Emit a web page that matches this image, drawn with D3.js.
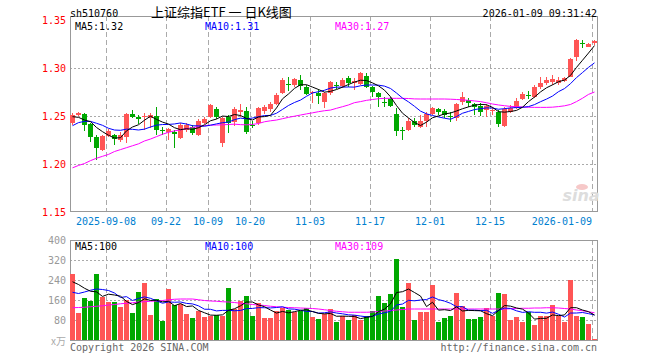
<!DOCTYPE html>
<html><head><meta charset="utf-8">
<script src="https://cdn.jsdelivr.net/npm/d3@7/dist/d3.min.js"></script>
<style>body{margin:0;background:#fff}svg{display:block}</style>
</head><body><svg id="c" width="660" height="360"></svg>
<script>
// ---------- data ----------
const dates = ["2025-08-29",
"2025-09-01","2025-09-02","2025-09-03","2025-09-04","2025-09-05","2025-09-08","2025-09-09","2025-09-10","2025-09-11","2025-09-12",
"2025-09-15","2025-09-16","2025-09-17","2025-09-18","2025-09-19","2025-09-22","2025-09-23","2025-09-24","2025-09-25","2025-09-26",
"2025-09-29","2025-09-30","2025-10-09","2025-10-10","2025-10-13","2025-10-14","2025-10-15","2025-10-16","2025-10-17","2025-10-20",
"2025-10-21","2025-10-22","2025-10-23","2025-10-24","2025-10-27","2025-10-28","2025-10-29","2025-10-30","2025-10-31","2025-11-03",
"2025-11-04","2025-11-05","2025-11-06","2025-11-07","2025-11-10","2025-11-11","2025-11-12","2025-11-13","2025-11-14","2025-11-17",
"2025-11-18","2025-11-19","2025-11-20","2025-11-21","2025-11-24","2025-11-25","2025-11-26","2025-11-27","2025-11-28","2025-12-01",
"2025-12-02","2025-12-03","2025-12-04","2025-12-05","2025-12-08","2025-12-09","2025-12-10","2025-12-11","2025-12-12","2025-12-15",
"2025-12-16","2025-12-17","2025-12-18","2025-12-19","2025-12-22","2025-12-23","2025-12-24","2025-12-25","2025-12-26","2025-12-29",
"2025-12-30","2025-12-31","2026-01-05","2026-01-06","2026-01-07","2026-01-08","2026-01-09"];

const open = [1.2424,1.2510,1.2521,1.2420,1.2285,1.2146,1.2292,1.2299,1.2250,1.2278,
1.2521,1.2493,1.2493,1.2476,1.2500,1.2357,1.2337,1.2337,1.2267,1.2354,
1.2389,1.2302,1.2431,1.2486,1.2570,1.2215,1.2486,1.2440,1.2545,1.2552,
1.2410,1.2424,1.2555,1.2573,1.2625,1.2743,1.2837,1.2823,1.2875,1.2806,
1.2736,1.2743,1.2649,1.2736,1.2826,1.2812,1.2892,1.2840,1.2833,1.2917,
1.2806,1.2743,1.2646,1.2674,1.2521,1.2357,1.2354,1.2451,1.2389,1.2451,
1.2521,1.2569,1.2556,1.2502,1.2476,1.2649,1.2667,1.2625,1.2604,1.2562,
1.2560,1.2545,1.2396,1.2545,1.2580,1.2674,1.2714,1.2701,1.2806,1.2847,
1.2858,1.2840,1.2868,1.2910,1.3111,1.3260,1.3222,1.3264];
const high = [1.2535,1.2545,1.2528,1.2430,1.2302,1.2302,1.2361,1.2312,1.2337,1.2535,
1.2562,1.2510,1.2528,1.2528,1.2597,1.2389,1.2372,1.2354,1.2424,1.2424,
1.2406,1.2465,1.2486,1.2625,1.2597,1.2493,1.2510,1.2590,1.2625,1.2597,
1.2444,1.2597,1.2614,1.2649,1.2736,1.2892,1.2903,1.2892,1.2927,1.2823,
1.2764,1.2778,1.2750,1.2868,1.2858,1.2892,1.2917,1.2892,1.2962,1.2951,
1.2812,1.2750,1.2694,1.2694,1.2580,1.2389,1.2476,1.2476,1.2510,1.2545,
1.2597,1.2580,1.2569,1.2545,1.2632,1.2753,1.2684,1.2639,1.2632,1.2625,
1.2590,1.2562,1.2590,1.2615,1.2684,1.2753,1.2764,1.2823,1.2910,1.2910,
1.2927,1.2910,1.2910,1.3101,1.3299,1.3292,1.3257,1.3292];
const low = [1.2406,1.2500,1.2340,1.2233,1.2042,1.2139,1.2285,1.2201,1.2233,1.2222,
1.2476,1.2417,1.2354,1.2372,1.2302,1.2302,1.2250,1.2163,1.2257,1.2337,
1.2302,1.2292,1.2417,1.2476,1.2465,1.2181,1.2326,1.2400,1.2493,1.2312,
1.2372,1.2406,1.2521,1.2545,1.2614,1.2729,1.2764,1.2806,1.2771,1.2719,
1.2632,1.2625,1.2580,1.2722,1.2778,1.2788,1.2806,1.2771,1.2823,1.2788,
1.2701,1.2597,1.2597,1.2597,1.2292,1.2250,1.2340,1.2389,1.2372,1.2389,
1.2510,1.2510,1.2476,1.2441,1.2451,1.2615,1.2597,1.2510,1.2500,1.2486,
1.2510,1.2382,1.2389,1.2528,1.2569,1.2667,1.2674,1.2684,1.2778,1.2823,
1.2823,1.2823,1.2858,1.2903,1.3076,1.3205,1.3215,1.3240];
const close = [1.2510,1.2535,1.2410,1.2285,1.2163,1.2292,1.2347,1.2264,1.2302,1.2521,
1.2493,1.2465,1.2500,1.2510,1.2354,1.2354,1.2361,1.2312,1.2406,1.2406,
1.2319,1.2448,1.2465,1.2615,1.2493,1.2476,1.2424,1.2570,1.2562,1.2337,
1.2400,1.2580,1.2590,1.2628,1.2722,1.2875,1.2833,1.2882,1.2812,1.2729,
1.2750,1.2708,1.2743,1.2854,1.2823,1.2875,1.2847,1.2868,1.2951,1.2806,
1.2753,1.2694,1.2642,1.2608,1.2347,1.2354,1.2448,1.2406,1.2451,1.2521,
1.2583,1.2542,1.2510,1.2500,1.2625,1.2701,1.2639,1.2597,1.2545,1.2604,
1.2565,1.2417,1.2569,1.2580,1.2660,1.2729,1.2712,1.2806,1.2847,1.2875,
1.2882,1.2875,1.2892,1.3090,1.3292,1.3255,1.3250,1.3281];
// volume, unit: 万
const volume = [264,109,169,157,264,173,153,153,133,160,
109,193,229,100,164,77,205,140,144,103,
89,116,93,97,100,97,207,124,156,176,
97,148,89,89,116,129,120,113,116,127,
93,84,103,124,71,96,80,100,80,96,
116,176,149,184,324,133,229,80,113,113,
220,71,89,96,187,137,84,84,93,129,
97,187,184,80,93,73,111,60,95,95,
140,98,73,240,95,93,66,4];

// moving-average values before enough history exists
const ma5Head = [1.2493,1.2486,1.2458,1.2441];
const ma10Head = [1.2399,1.2431,1.2444,1.2444,1.2424,1.2403,1.2372,1.2354,1.2351];
const ma30 = [1.1960,1.1985,1.2005,1.2035,1.2060,1.2080,1.2100,1.2130,1.2150,1.2170,
1.2190,1.2210,1.2240,1.2260,1.2285,1.2310,1.2330,1.2345,1.2355,1.2368,
1.2380,1.2390,1.2400,1.2405,1.2406,1.2408,1.2412,1.2415,1.2410,1.2408,
1.2412,1.2422,1.2440,1.2450,1.2458,1.2472,1.2486,1.2498,1.2510,1.2522,
1.2533,1.2545,1.2555,1.2562,1.2580,1.2597,1.2615,1.2639,1.2650,1.2663,
1.2672,1.2680,1.2684,1.2684,1.2684,1.2684,1.2682,1.2678,1.2677,1.2677,
1.2677,1.2677,1.2677,1.2675,1.2672,1.2668,1.2663,1.2657,1.2650,1.2638,
1.2625,1.2615,1.2607,1.2600,1.2597,1.2594,1.2591,1.2590,1.2590,1.2590,
1.2592,1.2598,1.2606,1.2620,1.2650,1.2685,1.2725,1.2750];
const vma5Head = [233,222,207,195];
const vma10Head = [191,186,192,199,204,202,198,188,170];
const vma30 = [129,130,131,133,135,137,140,142,145,147,
149,152,153,155,156,158,161,163,164,164,
164,161,158,156,155,153,152,150,147,145,
142,140,138,135,133,131,130,129,128,127,
126,124,121,118,115,113,111,111,111,111,
112,114,116,118,120,122,124,124,124,124,
124,124,124,124,124,124,124,124,124,124,
124,124,124,125,126,127,127,128,128,129,
129,128,126,124,120,117,113,109];

const priceTicks = [1.35,1.30,1.25,1.20,1.15];
const volTicks = [400,320,240,160,80];
const dateTicks = ["2025-09-08","2025-09-22","2025-10-09","2025-10-20","2025-11-03","2025-11-17","2025-12-01","2025-12-15","2026-01-09"];
const dateTickLabels = ["2025-09-08","09-22","10-09","10-20","11-03","11-17","12-01","12-15","2026-01-09"];

// ---------- helpers ----------
function rolling(arr, n, head){
  return arr.map((_, i) => i < n - 1 ? head[i] : d3.mean(arr.slice(i - n + 1, i + 1)));
}
const ma5 = rolling(close, 5, ma5Head);
const ma10 = rolling(close, 10, ma10Head);
const vma5 = rolling(volume, 5, vma5Head);
const vma10 = rolling(volume, 10, vma10Head);

const UP = "#ff5555", DOWN = "#00a800", GRID = "#aaaaaa", FRAME = "#999999";
const MONO = "'DejaVu Sans Mono', 'Liberation Mono', monospace";
const L = 70, R = 597;
const svg = d3.select("#c");

const x = d3.scaleBand().domain(dates).range([L, L + 6 * dates.length]).padding(0);
const bw = 5;
const cx = d => x(d) + 2;

const y = d3.scaleLinear().domain([1.15, 1.35]).range([212, 20]);
const vy = d3.scaleLinear().domain([0, 400]).range([340, 240]);

const isUp = i => close[i] >= open[i];

// ---------- price panel ----------
const pTop = 16, pBot = 211;
const gp = svg.append("g");
gp.selectAll("line.hg").data(priceTicks.filter(t => t > 1.16 && t < 1.34)).join("line")
  .attr("x1", L).attr("x2", R).attr("y1", d => Math.round(y(d)) + 0.5).attr("y2", d => Math.round(y(d)) + 0.5)
  .attr("stroke", GRID).attr("stroke-dasharray", "2,2");
gp.selectAll("line.vg").data(dateTicks).join("line")
  .attr("x1", d => x(d) + 0.5).attr("x2", d => x(d) + 0.5).attr("y1", pTop).attr("y2", pBot)
  .attr("stroke", GRID).attr("stroke-dasharray", "5,3");
gp.append("rect").attr("x", L + 0.5).attr("y", pTop + 0.5).attr("width", R - L).attr("height", pBot - pTop)
  .attr("fill", "none").attr("stroke", FRAME);

// watermark
svg.append("text").attr("x", 581).attr("y", 201).attr("text-anchor", "middle")
  .attr("font-family", "'DejaVu Sans', sans-serif").attr("font-size", 16).attr("font-weight", "bold").attr("font-style", "italic")
  .attr("fill", "#dddddd").text("sina");
svg.append("ellipse").attr("cx", 582).attr("cy", 187).attr("rx", 6).attr("ry", 3).attr("fill", "#f6c8c8");

// price labels
svg.selectAll("text.pl").data(priceTicks).join("text")
  .attr("x", 66).attr("y", d => y(d) + 4).attr("text-anchor", "end")
  .attr("font-family", MONO).attr("font-size", 10).attr("fill", "#ff0000").text(d => d.toFixed(2));

// date labels
svg.selectAll("text.dl").data(dateTicks).join("text")
  .attr("x", d => x(d)).attr("y", 225)
  .attr("text-anchor", (d, i) => i === dateTicks.length - 1 ? "end" : "middle")
  .attr("font-family", MONO).attr("font-size", 10).attr("fill", "#0080d0")
  .text((d, i) => dateTickLabels[i]);

// candles
const cg = svg.append("g").attr("shape-rendering", "crispEdges");
cg.selectAll("rect.wick").data(dates).join("rect")
  .attr("x", d => cx(d)).attr("width", 1)
  .attr("y", (d, i) => y(high[i])).attr("height", (d, i) => Math.max(1, y(low[i]) - y(high[i])))
  .attr("fill", (d, i) => isUp(i) ? UP : DOWN);
cg.selectAll("rect.body").data(dates).join("rect")
  .attr("x", d => x(d)).attr("width", bw)
  .attr("y", (d, i) => y(Math.max(open[i], close[i])))
  .attr("height", (d, i) => Math.max(1, Math.abs(y(open[i]) - y(close[i]))))
  .attr("fill", (d, i) => isUp(i) ? UP : DOWN);

// MA lines
const pline = d3.line().x((d, i) => cx(dates[i]) + 0.5).y(d => y(d));
[[ma30, "#ff00ff"], [ma10, "#0000ff"], [ma5, "#000000"]].forEach(([s, c]) => {
  svg.append("path").attr("d", pline(s)).attr("fill", "none").attr("stroke", c).attr("stroke-width", 1);
});

const last = a => a[a.length - 1];
const leg = [["MA5:" + last(ma5).toFixed(2), "#000000", 75], ["MA10:" + last(ma10).toFixed(2), "#0000ff", 205], ["MA30:" + last(ma30).toFixed(2), "#ff00ff", 335]];
svg.selectAll("text.leg").data(leg).join("text")
  .attr("x", d => d[2]).attr("y", 30).attr("font-family", MONO).attr("font-size", 10)
  .attr("fill", d => d[1]).text(d => d[0]);

// header
svg.append("text").attr("x", 70).attr("y", 17).attr("font-family", MONO).attr("font-size", 10).attr("fill", "#000").text("sh510760");
svg.append("text").attr("x", 151).attr("y", 17).attr("font-family", "'Noto Sans CJK SC', sans-serif").attr("font-size", 13).attr("fill", "#000").text("上证综指ETF 一 日K线图");
svg.append("text").attr("x", 597).attr("y", 17).attr("text-anchor", "end").attr("font-family", MONO).attr("font-size", 10).attr("fill", "#000").text("2026-01-09 09:31:42");

// ---------- volume panel ----------
const vTop = 240, vBot = 340;
const gv = svg.append("g");
gv.selectAll("line.hg").data(volTicks.filter(t => t < 400)).join("line")
  .attr("x1", L).attr("x2", R).attr("y1", d => Math.round(vy(d)) + 0.5).attr("y2", d => Math.round(vy(d)) + 0.5)
  .attr("stroke", GRID).attr("stroke-dasharray", "2,2");
gv.selectAll("line.vg").data(dateTicks).join("line")
  .attr("x1", d => x(d) + 0.5).attr("x2", d => x(d) + 0.5).attr("y1", vTop).attr("y2", vBot)
  .attr("stroke", GRID).attr("stroke-dasharray", "5,3");
gv.append("rect").attr("x", L + 0.5).attr("y", vTop + 0.5).attr("width", R - L).attr("height", vBot - vTop)
  .attr("fill", "none").attr("stroke", FRAME);

svg.append("g").attr("shape-rendering", "crispEdges").selectAll("rect").data(dates).join("rect")
  .attr("x", d => x(d)).attr("width", bw)
  .attr("y", (d, i) => vy(volume[i])).attr("height", (d, i) => vBot - vy(volume[i]))
  .attr("fill", (d, i) => isUp(i) ? UP : DOWN);

const vline = d3.line().x((d, i) => cx(dates[i]) + 0.5).y(d => vy(d));
[[vma30, "#ff00ff"], [vma10, "#0000ff"], [vma5, "#000000"]].forEach(([s, c]) => {
  svg.append("path").attr("d", vline(s)).attr("fill", "none").attr("stroke", c).attr("stroke-width", 1);
});

svg.selectAll("text.vl").data(volTicks).join("text")
  .attr("x", 66).attr("y", d => vy(d) + 4).attr("text-anchor", "end")
  .attr("font-family", MONO).attr("font-size", 10).attr("fill", "#999999").text(d => d);
svg.append("text").attr("x", 66).attr("y", 345).attr("text-anchor", "end")
  .attr("font-family", "'Noto Sans CJK SC', sans-serif").attr("font-size", 10).attr("fill", "#aaaaaa").text("x万");

const vleg = [["MA5:" + Math.round(last(vma5)), "#000000", 75], ["MA10:" + Math.round(last(vma10)), "#0000ff", 205], ["MA30:" + Math.round(last(vma30)), "#ff00ff", 335]];
svg.selectAll("text.vleg").data(vleg).join("text")
  .attr("x", d => d[2]).attr("y", 250).attr("font-family", MONO).attr("font-size", 10)
  .attr("fill", d => d[1]).text(d => d[0]);

svg.append("text").attr("x", 70).attr("y", 351).attr("font-family", MONO).attr("font-size", 10).attr("fill", "#666").text("Copyright 2026 SINA.COM");
svg.append("text").attr("x", 597).attr("y", 351).attr("text-anchor", "end").attr("font-family", MONO).attr("font-size", 10).attr("fill", "#666").text("http://finance.sina.com.cn");
</script>
</body></html>
